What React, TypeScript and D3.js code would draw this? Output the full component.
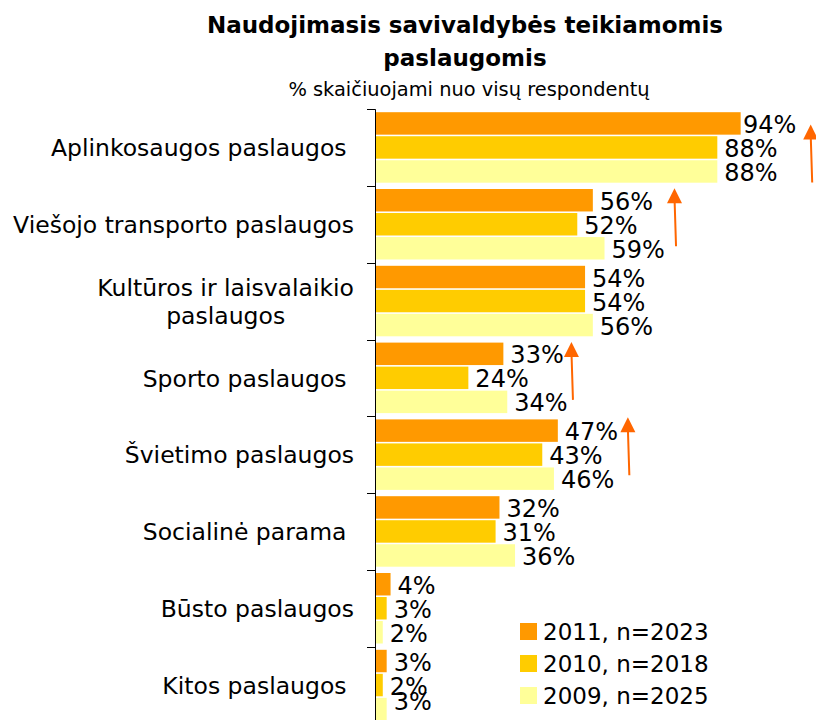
import React, { useRef, useEffect } from 'react';
import * as d3 from 'd3';

// category labels (trailing spaces kept like in the original sheet)
const categories = [
    'Aplinkosaugos paslaugos ',
    'Viešojo transporto paslaugos',
    'Kultūros ir laisvalaikio\npaslaugos',
    'Sporto paslaugos ',
    'Švietimo paslaugos',
    'Socialinė parama ',
    'Būsto paslaugos',
    'Kitos paslaugos ',
];
const seriesNames = ['2011, n=2023', '2010, n=2018', '2009, n=2025'];
const values2011 = [94, 56, 54, 33, 47, 32, 4, 3];
const values2010 = [88, 52, 54, 24, 43, 31, 3, 2];
const values2009 = [88, 59, 56, 34, 46, 36, 2, 3];
const colors = ['#FF9900', '#FFCC00', '#FFFF99'];

// arrows marking growth: category index, position on the % scale, start as share of band
const arrowCats = [0, 1, 3, 4];
const arrowValues = [112, 77, 50.5, 65];
const arrowStarts = [0.2, 0.03, 0.03, 0.01];

const FONT = '"DejaVu Sans", Verdana, sans-serif';

const App = () => {
    const svgRef = useRef<SVGSVGElement>(null);

    useEffect(() => {
        const svg = d3.select(svgRef.current);
        svg.selectAll('*').remove();

        const width = 816;
        const height = 720;
        const left = 375;
        const top = 109.2;
        const step = 76.8;

        const x = d3.scaleLinear().domain([0, 100]).range([left, left + 389]);
        const y0 = d3.scaleBand<number>()
            .domain(d3.range(categories.length))
            .range([top, top + step * categories.length]);
        const y1 = d3.scaleBand<number>()
            .domain(d3.range(seriesNames.length))
            .range([3, 73.5])
            .paddingInner(0.065);

        const series = [values2011, values2010, values2009];

        // title
        const title = svg.append('g').attr('font-family', FONT).attr('text-anchor', 'middle');
        title.append('text').attr('x', 465).attr('y', 33)
            .attr('font-weight', 'bold').attr('font-size', 23)
            .text('Naudojimasis savivaldybės teikiamomis');
        title.append('text').attr('x', 465).attr('y', 66)
            .attr('font-weight', 'bold').attr('font-size', 23)
            .text('paslaugomis');
        title.append('text').attr('x', 469).attr('y', 96)
            .attr('font-size', 19.4)
            .text('% skaičiuojami nuo visų respondentų');

        // bars
        const groups = svg.append('g').selectAll('g.grp')
            .data(categories)
            .enter()
            .append('g')
            .attr('class', 'grp')
            .attr('transform', (d, i) => `translate(0,${y0(i)})`);

        groups.each(function (d, i) {
            const g = d3.select(this);
            series.forEach((vals, s) => {
                const yy = y1(s)!;
                g.append('rect')
                    .attr('x', x(0))
                    .attr('y', yy)
                    .attr('width', x(vals[i]) - x(0))
                    .attr('height', y1.bandwidth())
                    .attr('fill', colors[s]);
            });
        });

        // value labels (kept inside the plot at the right and bottom edge)
        series.forEach((vals, s) => {
            svg.append('g').selectAll('text')
                .data(vals)
                .enter()
                .append('text')
                .attr('x', (d) => Math.min(x(d) + 7, 743))
                .attr('y', (d, i) => Math.min(y0(i)! + y1(s)! + y1.bandwidth() / 2 + 9.5, 710))
                .attr('font-family', FONT)
                .attr('font-size', 24)
                .attr('fill', '#000')
                .text((d) => d + '%');
        });

        // axis
        const axis = svg.append('g').attr('stroke', '#000').attr('stroke-width', 1);
        axis.append('line')
            .attr('x1', left + 0.5).attr('x2', left + 0.5)
            .attr('y1', top).attr('y2', height);
        axis.selectAll('line.tick')
            .data(d3.range(categories.length))
            .enter()
            .append('line')
            .attr('class', 'tick')
            .attr('x1', left - 8).attr('x2', left)
            .attr('y1', (d) => Math.round(y0(d)!) + 0.5)
            .attr('y2', (d) => Math.round(y0(d)!) + 0.5);

        // category labels
        categories.forEach((c, i) => {
            const lines = c.split('\n');
            const cy = y0(i)! + y0.bandwidth() / 2;
            const lh = 28;
            const t = svg.append('text')
                .attr('font-family', FONT)
                .attr('font-size', 23.5)
                .attr('fill', '#000')
                .style('white-space', 'pre');
            if (lines.length === 1) {
                t.attr('x', 354).attr('y', cy + 8.5).attr('text-anchor', 'end').text(c);
            } else {
                const first = t.attr('x', 354).attr('y', cy - lh / 2 + 8.5)
                    .attr('text-anchor', 'end').text(lines[0]);
                const w = (first.node() as SVGTextElement).getComputedTextLength();
                svg.append('text')
                    .attr('font-family', FONT)
                    .attr('font-size', 23.5)
                    .attr('text-anchor', 'middle')
                    .attr('x', 354 - w / 2)
                    .attr('y', cy + lh / 2 + 8.5)
                    .text(lines[1]);
            }
        });

        // arrows
        arrowCats.forEach((ci, k) => {
            const gy = y0(ci)!;
            const tipY = gy + arrowStarts[k] * step;
            const tipX = x(arrowValues[k]);
            const bottomY = tipY + 58;
            const g = svg.append('g').attr('fill', '#FF6600').attr('stroke', '#FF6600');
            g.append('line')
                .attr('x1', tipX + 1.5).attr('y1', bottomY)
                .attr('x2', tipX).attr('y2', tipY + 10)
                .attr('stroke-width', 2);
            g.append('path')
                .attr('stroke', 'none')
                .attr('d', `M${tipX},${tipY} L${tipX + 7.5},${tipY + 15} L${tipX - 7.5},${tipY + 15} Z`);
        });

        // legend
        const legend = svg.append('g').selectAll('g')
            .data(seriesNames)
            .enter()
            .append('g')
            .attr('transform', (d, i) => `translate(520,${623 + i * 32})`);
        legend.append('rect')
            .attr('width', 17).attr('height', 17)
            .attr('fill', (d, i) => colors[i]);
        legend.append('text')
            .attr('x', 23).attr('y', 17)
            .attr('font-family', FONT)
            .attr('font-size', 23)
            .text((d) => d);

        svg.attr('width', width).attr('height', height);
    }, []);

    return (
        <svg
            ref={svgRef}
            width={816}
            height={720}
            style={{ position: 'absolute', left: 0, top: 0, background: '#fff', overflow: 'hidden' }}
        ></svg>
    );
};

export default App;
